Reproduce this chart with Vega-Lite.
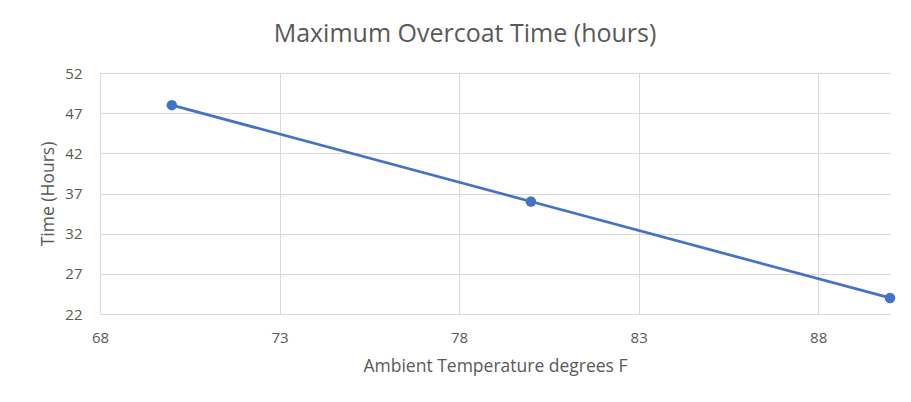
{
  "$schema": "https://vega.github.io/schema/vega-lite/v6.json",
  "autosize": {"type": "none"},
  "padding": {"left": 100, "top": 73, "right": 21, "bottom": 88},
  "width": 790,
  "height": 241,
  "background": "white",
  "title": {
    "text": "Maximum Overcoat Time (hours)",
    "font": "Open Sans",
    "fontSize": 25,
    "fontWeight": "normal",
    "color": "#595959",
    "anchor": "middle",
    "dx": -30,
    "offset": 19
  },
  "data": {
    "values": [
      {"temp": 70, "time": 48},
      {"temp": 80, "time": 36},
      {"temp": 90, "time": 24}
    ]
  },
  "config": {
    "view": {"stroke": null},
    "axis": {
      "labelFont": "Open Sans",
      "titleFont": "Open Sans",
      "labelColor": "#595959",
      "titleColor": "#595959",
      "labelFontSize": 15,
      "titleFontSize": 17.5,
      "titleFontWeight": "normal",
      "gridColor": "#d9d9d9",
      "gridWidth": 1,
      "domain": false,
      "ticks": false,
      "labelFlush": false
    }
  },
  "encoding": {
    "x": {
      "field": "temp",
      "type": "quantitative",
      "scale": {"domain": [68, 90], "nice": false, "zero": false},
      "axis": {"values": [68, 73, 78, 83, 88], "title": "Ambient Temperature degrees F", "labelPadding": 16, "titlePadding": 12}
    },
    "y": {
      "field": "time",
      "type": "quantitative",
      "scale": {"domain": [22, 52], "nice": false, "zero": false},
      "axis": {"values": [22, 27, 32, 37, 42, 47, 52], "title": "Time (Hours)", "labelPadding": 18, "titlePadding": 7}
    }
  },
  "layer": [
    {"mark": {"type": "line", "color": "#4472C4", "strokeWidth": 2.75}},
    {"mark": {"type": "point", "filled": true, "color": "#4472C4", "size": 110, "opacity": 1}}
  ]
}
